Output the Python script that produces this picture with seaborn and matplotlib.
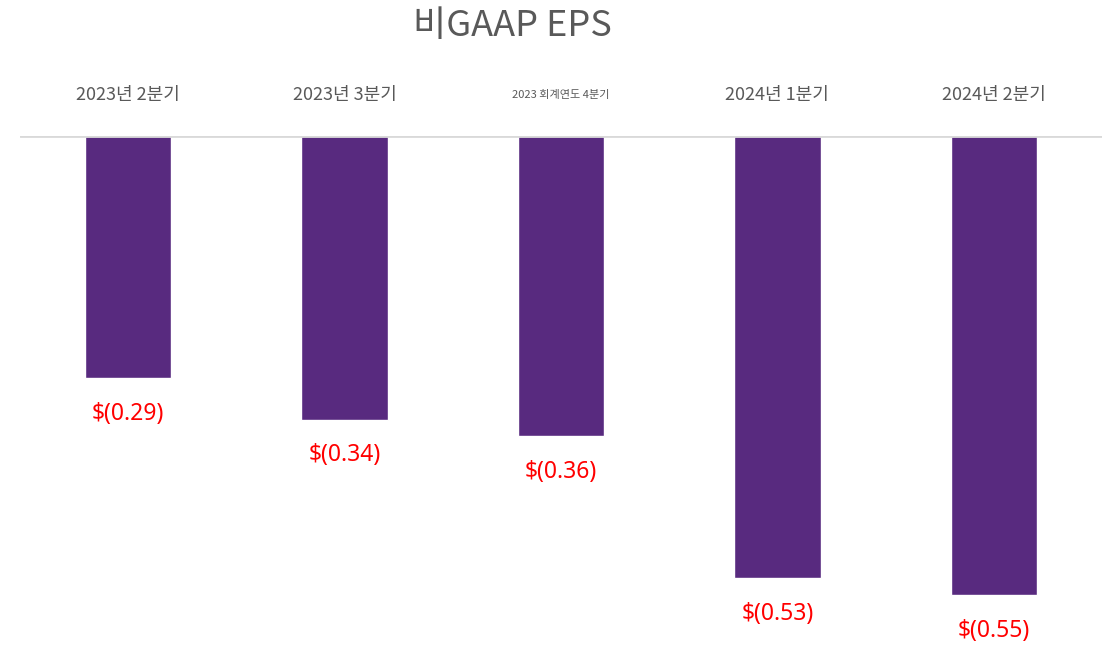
import matplotlib
matplotlib.use("Agg")
import matplotlib.pyplot as plt
import matplotlib.transforms as mtransforms
import seaborn as sns
import pandas as pd

categories = ["2023년 2분기", "2023년 3분기", "2023 회계연도 4분기", "2024년 1분기", "2024년 2분기"]
eps = [-0.29, -0.34, -0.36, -0.53, -0.55]
value_labels = ["$(0.29)", "$(0.34)", "$(0.36)", "$(0.53)", "$(0.55)"]
cat_sizes = [13, 13, 8, 13, 13]

sns.set_theme(style="white")
plt.rcParams['font.family'] = ['Noto Sans CJK KR', 'DejaVu Sans']

df = pd.DataFrame({"cat": categories, "eps": eps})

fig = plt.figure(figsize=(11.07, 6.45), dpi=100)
W, H = 1107, 645
ax = fig.add_axes([20 / W, 0, (1102 - 20) / W, (645 - 136) / H])

sns.barplot(data=df, x="cat", y="eps", color="#582A7F", saturation=1, width=0.4, ax=ax)

ax.set_xlim(-0.5, 4.5)
ax.set_ylim(-509 / 834, 0)
ax.axhline(0, color="#D9D9D9", lw=2, zorder=5)
for s in ax.spines.values():
    s.set_visible(False)
ax.set_xticks([])
ax.set_yticks([])
ax.set_xlabel("")
ax.set_ylabel("")

cat_tr = mtransforms.blended_transform_factory(ax.transData, fig.transFigure)
for i, (v, lab) in enumerate(zip(eps, value_labels)):
    ax.text(i, v - 0.043, lab, ha="center", va="center", color="#FF0000", fontsize=16.5,
            family=['Noto Sans', 'DejaVu Sans'])
    ax.text(i, 1 - 95 / H, categories[i], ha="center", va="center", color="#595959",
            fontsize=cat_sizes[i], transform=cat_tr)

fig.text(512 / W, 1 - 26 / H, "비GAAP EPS", ha="center", va="center", color="#595959", fontsize=26)

fig.savefig("out.png", dpi=100)
